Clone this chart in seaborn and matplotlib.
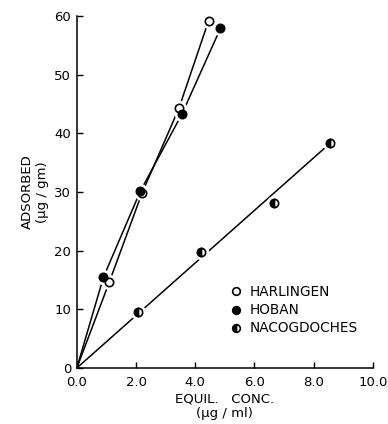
import matplotlib
matplotlib.use("Agg")
import matplotlib.pyplot as plt
import seaborn as sns
import pandas as pd
from matplotlib.lines import Line2D

# equilibrium concentration (ug/ml) and amount adsorbed (ug/gm)
harlingen_x = [1.1, 2.2, 3.45, 4.45]
harlingen_y = [14.7, 29.8, 44.3, 59.2]
hoban_x = [0.9, 2.15, 3.55, 4.85]
hoban_y = [15.5, 30.2, 43.3, 57.9]
nacog_x = [2.05, 4.2, 6.65, 8.55]
nacog_y = [9.6, 19.8, 28.1, 38.3]

soils = ["HARLINGEN", "HOBAN", "NACOGDOCHES"]

sns.set_style("ticks")
plt.rcParams["font.family"] = ["DejaVu Sans"]
plt.rcParams["text.color"] = "black"
plt.rcParams["axes.labelcolor"] = "black"
plt.rcParams["xtick.color"] = "black"
plt.rcParams["ytick.color"] = "black"
plt.rcParams["axes.edgecolor"] = "black"

fig = plt.figure(figsize=(3.88, 4.24), dpi=100)
ax = fig.add_axes([0.198, 0.132, 0.763, 0.83])

# fitted curves start at the origin; Nacogdoches is a straight fit to the last point
rows = []
for name, xs, ys in [("HARLINGEN", harlingen_x, harlingen_y),
                     ("HOBAN", hoban_x, hoban_y),
                     ("NACOGDOCHES", nacog_x[-1:], nacog_y[-1:])]:
    rows.append({"soil": name, "conc": 0.0, "ads": 0.0})
    for x, y in zip(xs, ys):
        rows.append({"soil": name, "conc": x, "ads": y})
df = pd.DataFrame(rows)

sns.lineplot(data=df, x="conc", y="ads", units="soil", estimator=None,
             sort=False, color="black", lw=1.1, ax=ax, zorder=2)

styles = {
    "HARLINGEN": dict(marker="o", mfc="white", mec="black", fillstyle="full"),
    "HOBAN": dict(marker="o", mfc="black", mec="black", fillstyle="full"),
    "NACOGDOCHES": dict(marker="o", mfc="black", mec="black", fillstyle="left",
                        markerfacecoloralt="white"),
}
for name, xs, ys in zip(soils, [harlingen_x, hoban_x, nacog_x],
                        [harlingen_y, hoban_y, nacog_y]):
    # white halo so the line stops short of each point
    ax.plot(xs, ys, "o", ms=10, color="white", mec="white", ls="none", zorder=3)
    ax.plot(xs, ys, ls="none", ms=6, mew=1.2, zorder=4, **styles[name])

handles = [Line2D([], [], ls="none", ms=5.5, mew=1.2, **styles[n]) for n in soils]
ax.legend(handles, soils, loc="upper left", bbox_to_anchor=(0.47, 0.27),
          frameon=False, handletextpad=0.35, labelspacing=0.3,
          handlelength=1.2, fontsize=9.8)

ax.set_xlim(0, 10)
ax.set_ylim(0, 60)
ax.set_xticks([0, 2, 4, 6, 8, 10])
ax.set_xticklabels(["0.0", "2.0", "4.0", "6.0", "8.0", "10.0"])
ax.set_yticks([0, 10, 20, 30, 40, 50, 60])
ax.tick_params(direction="in", length=4, width=1, labelsize=9.5)
ax.tick_params(axis="x", pad=6)
ax.tick_params(axis="y", pad=4)
sns.despine(ax=ax)
for s in ["left", "bottom"]:
    ax.spines[s].set_linewidth(1.1)

ax.set_xlabel("EQUIL.   CONC.\n(\u00b5g / ml)", fontsize=9.5, labelpad=2)
ax.set_ylabel("ADSORBED\n(\u00b5g / gm)", fontsize=9.5, labelpad=4)

fig.savefig("out.png", dpi=100)
